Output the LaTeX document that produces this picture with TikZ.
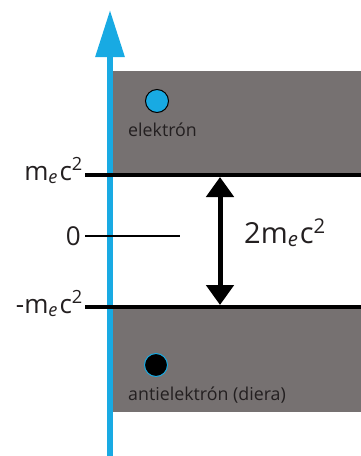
\documentclass[tikz,border=0pt]{standalone}
\usepackage{fontspec}
\setmainfont{Open Sans}
\usepackage{xcolor}
\definecolor{cAxis}{HTML}{18AAE3}
\definecolor{cBand}{HTML}{767171}
\definecolor{cText}{HTML}{231F20}
\usetikzlibrary{positioning,arrows.meta}
\tikzset{
  band/.style={fill=cBand,draw=none},
  level-line/.style={line width=3.6pt,draw=black},
  zero-line/.style={line width=2pt,draw=black},
  axis-arrow/.style={line width=6pt,draw=cAxis,-{Triangle[length=47pt,width=28pt]}},
  gap-arrow/.style={line width=5pt,draw=black,
    {Triangle[length=20pt,width=27pt]}-{Triangle[length=20pt,width=27pt]}},
  level-label/.style={font=\fontsize{26}{28}\selectfont,text=cText,inner sep=0pt},
  gap-label/.style={font=\fontsize{29}{31}\selectfont,text=cText,inner sep=0pt},
  particle-label/.style={font=\fontsize{17.8}{19}\selectfont,text=cText,inner sep=0pt},
  electron/.style={circle,fill=cAxis,draw=black,line width=1pt,minimum size=23pt,inner sep=0pt},
  positron/.style={circle,fill=black,draw=cAxis,line width=1pt,minimum size=23pt,inner sep=0pt},
}
\newcommand{\mecc}{m\textsubscript{\textit{e}}\kern1.5pt c\textsuperscript{2}}

\begin{document}
\begin{tikzpicture}[x=1pt,y=-1pt]
  \useasboundingbox (0,0) rectangle (361,456);
  % energy bands
  \fill[band] (113,71) rectangle (361,175);
  \fill[band] (113,307) rectangle (361,412);
  \draw[axis-arrow] (110,456) -- (110,10);
  % levels
  \coordinate (top-l) at (85,175);
  \coordinate (top-r) at (361,175);
  \coordinate (bot-l) at (85,307);
  \coordinate (bot-r) at (361,307);
  \coordinate (zero-l) at (85,236);
  \coordinate (zero-r) at (180,236);
  \draw[level-line] (top-l) -- (top-r);
  \draw[level-line] (bot-l) -- (bot-r);
  \draw[zero-line] (zero-l) -- (zero-r);
  \node[level-label,anchor=base east] (up) at (83,180) {\mecc};
  \node[level-label,anchor=east] (zero) at (81,236) {0};
  \node[level-label,anchor=base east] (down) at (83,313) {-\mecc};
  % gap
  \coordinate (gap-t) at (220,177);
  \coordinate (gap-b) at (220,305);
  \draw[gap-arrow] (gap-t) -- (gap-b);
  \node[gap-label,anchor=base west] (gap) at (244,243) {2\mecc};
  % particles
  \node[electron] (el) at (157,101) {};
  \node[particle-label,anchor=base west] (el-txt) at (128,136) {elektrón};
  \node[positron] (pos) at (156,365) {};
  \node[particle-label,anchor=base west] (pos-txt) at (128,400) {antielektrón (diera)};
\end{tikzpicture}
\end{document}
